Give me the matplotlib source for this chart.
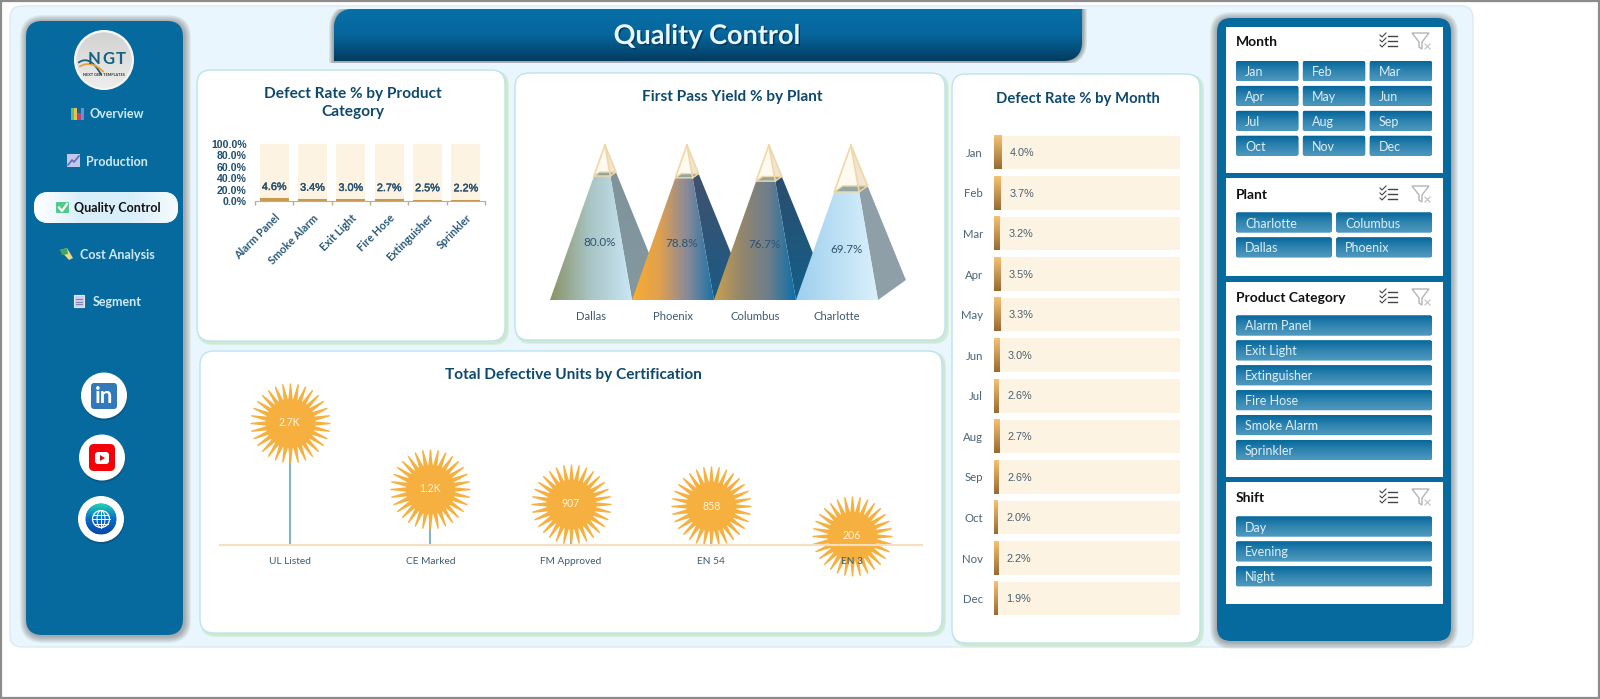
import numpy as np
import matplotlib
matplotlib.use("Agg")
import matplotlib.pyplot as plt
import matplotlib.patheffects as pe
from matplotlib.colors import LinearSegmentedColormap
from matplotlib.patches import FancyBboxPatch, Circle, Ellipse, Polygon, PathPatch, Rectangle
from matplotlib.path import Path

# chart data
product_cats = ["Alarm Panel", "Smoke Alarm", "Exit Light", "Fire Hose", "Extinguisher", "Sprinkler"]
product_defect = [4.6, 3.4, 3.0, 2.7, 2.5, 2.2]
product_ticks = [0, 20, 40, 60, 80, 100]

plants = ["Dallas", "Phoenix", "Columbus", "Charlotte"]
plant_yield = [80.0, 78.8, 76.7, 69.7]

certs = ["UL Listed", "CE Marked", "FM Approved", "EN 54", "EN 3"]
cert_units = [2700, 1240, 907, 858, 206]
cert_labels = ["2.7K", "1.2K", "907", "858", "206"]

months = ["Jan", "Feb", "Mar", "Apr", "May", "Jun", "Jul", "Aug", "Sep", "Oct", "Nov", "Dec"]
month_defect = [4.0, 3.7, 3.2, 3.5, 3.3, 3.0, 2.6, 2.7, 2.6, 2.0, 2.2, 1.9]

# navigation and slicers
nav_items = ["Overview", "Production", "Quality Control", "Cost Analysis", "Segment"]
slicer_plants = ["Charlotte", "Columbus", "Dallas", "Phoenix"]
slicer_cats = ["Alarm Panel", "Exit Light", "Extinguisher", "Fire Hose", "Smoke Alarm", "Sprinkler"]
slicer_shifts = ["Day", "Evening", "Night"]

W, H = 1600, 699
NAVY = "#0F4A6E"
BLUE = "#076A9E"
TAN = "#EFD7A6"
CREAM = "#FDF3E3"
plt.rcParams["font.family"] = ["Lato", "DejaVu Sans"]

fig = plt.figure(figsize=(W / 100, H / 100), dpi=100, facecolor="white")
bg = fig.add_axes([0, 0, 1, 1])
bg.set_xlim(0, W)
bg.set_ylim(H, 0)
bg.axis("off")


def axes_px(x0, y0, x1, y1):
    ax = fig.add_axes([x0 / W, 1 - y1 / H, (x1 - x0) / W, (y1 - y0) / H])
    ax.patch.set_alpha(0)
    return ax


def rbox(x0, y0, x1, y1, r, **kw):
    p = FancyBboxPatch((x0, y0), x1 - x0, y1 - y0, boxstyle=f"round,pad=0,rounding_size={r}", **kw)
    bg.add_patch(p)
    return p


def grad(ax, x0, y0, x1, y1, colors, clip=None, vertical=True, z=2):
    cmap = LinearSegmentedColormap.from_list("g", colors)
    g = np.linspace(0, 1, 64)
    g = g[:, None] if vertical else g[None, :]
    lims = ax.get_xlim(), ax.get_ylim()
    im = ax.imshow(g, extent=(x0, x1, y1, y0), cmap=cmap, aspect="auto", zorder=z, origin="upper", vmin=0, vmax=1)
    im.set_clip_box(fig.bbox)  # pyramids lean out past the axes
    if clip is not None:
        im.set_clip_path(clip)
    ax.set_xlim(lims[0])
    ax.set_ylim(lims[1])
    return im


def shadow(x0, y0, x1, y1, r, color, dx, dy, spread=5, alpha=0.12):
    for s in range(spread, 0, -1):
        rbox(x0 + dx - s, y0 + dy - s, x1 + dx + s, y1 + dy + s, r + s, fc=color, ec="none", alpha=alpha, zorder=1)


def card(x0, y0, x1, y1):
    shadow(x0, y0, x1, y1, 14, "#BFE3B8", 2, 2, spread=2, alpha=0.4)
    rbox(x0, y0, x1, y1, 14, fc="white", ec="#BDE3EF", lw=1.0, zorder=1.5)


# page frame
bg.add_patch(Rectangle((1, 1), W - 2, H - 2, fc="white", ec="#8C8C8C", lw=1.6, zorder=0))
rbox(10, 6, 1473, 647, 12, fc="#EAF6FD", ec="#DCEAF2", lw=1, zorder=0.5)

# sidebar
shadow(26, 21, 183, 635, 16, "#444444", 1, 1, spread=7, alpha=0.07)
rbox(26, 21, 183, 635, 16, fc=BLUE, ec="none", zorder=1.5)

# logo
bg.add_patch(Circle((104, 60), 30, fc="#F6F6F4", ec="none", zorder=3))
disc = Circle((104, 60), 27.5, fc="#E4E4E2", ec="none", zorder=3.1)
bg.add_patch(disc)
grad(bg, 76, 32, 132, 88, ["#D2D2D0", "#EDEDEB"], clip=disc, z=3.1)
for letter, lx in zip("NGT", [94, 108, 121]):
    bg.text(lx, 59, letter, fontsize=12, fontweight="bold", color="#17607F", ha="center", va="center", zorder=4)
arc_t = np.linspace(0, 1, 30)
bg.plot(79 + 22 * arc_t, 63 + 9 * (arc_t - 0.35) ** 2 * 3 - 4 * (1 - arc_t), color="#17607F", lw=1.3, zorder=3.8)
bg.plot(80 + 23 * arc_t, 65 + 6 * (arc_t - 0.4) ** 2 * 3 - 1.5 * (1 - arc_t), color="#E9A23B", lw=1.3, zorder=3.8)
bg.text(104, 74.5, "NEXT GEN TEMPLATES", fontsize=2.8, fontweight="bold", color="#333333", ha="center", va="center", zorder=4)

# nav pill + labels
pill = rbox(34, 192, 178, 223, 15, fc="#E4F3FB", ec="none", zorder=2)
grad(bg, 34, 192, 178, 223, ["#FFFFFF", "#D8EEF9", "#D8EEF9", "#F4FBFF"], clip=pill, vertical=False, z=2.2)
nav_y = [114.5, 161.5, 208.5, 255, 301.5]
nav_x = [117, 117, 117, 117, 117]
for name, x, y in zip(nav_items, nav_x, nav_y):
    active = name == "Quality Control"
    bg.text(x, y, name, fontsize=9, fontweight="bold", color="#111111" if active else "#CFEAF5",
            ha="center", va="center", zorder=4)

# nav icons
for c, (x0, x1, top) in zip(["#5BB98C", "#E8C24A", "#C8407A", "#6C8FD0"], [(71, 74, 108), (74, 77, 108), (77, 80.5, 113), (80.5, 84, 108)]):
    bg.add_patch(Rectangle((x0, top), x1 - x0, 120 - top, fc=c, ec="none", zorder=4))
bg.add_patch(Rectangle((67, 154), 13, 13, fc="#C4C6EC", ec="none", zorder=4))
bg.plot([68, 72, 74, 79], [165, 160, 162, 156], color="#5E6FC0", lw=1.2, zorder=5)
bg.add_patch(FancyBboxPatch((56, 202), 13, 11, boxstyle="round,pad=0,rounding_size=1", fc="#52C98A", ec="none", zorder=4))
bg.plot([59, 62, 67], [207.5, 211, 204], color="white", lw=1.6, zorder=5)
bg.add_patch(Polygon([(60, 250), (67, 248), (73, 258), (69, 260)], fc="#E9D98A", ec="none", zorder=4))
bg.add_patch(Polygon([(60, 250), (67, 248), (68, 254), (62, 255)], fc="#3DA566", ec="none", zorder=4.1))
bg.add_patch(Rectangle((74, 295), 10, 12, fc="#C9CCEC", ec="#E6E6F4", lw=0.8, zorder=4))
for ly in (299, 301.5, 304):
    bg.plot([76, 82], [ly, ly], color="#7C7FB0", lw=0.7, zorder=5)

# social buttons
for cx, cy in [(104, 395.5), (102, 457.5), (101, 519)]:
    bg.add_patch(Circle((cx + 0.5, cy + 2), 23, fc="#0A4A6E", ec="none", alpha=0.55, zorder=2))
    bg.add_patch(Circle((cx, cy), 23, fc="white", ec="none", zorder=3))
rbox(91, 383, 117, 409, 3, fc="#3179B8", ec="none", zorder=4)
bg.text(104, 396.5, "in", fontsize=16, fontweight="bold", color="white", ha="center", va="center", zorder=5)
rbox(89, 444, 115, 471, 5, fc="#F40009", ec="none", zorder=4)
rbox(95, 452, 109, 464, 3, fc="white", ec="none", zorder=5)
bg.add_patch(Polygon([(100, 455), (100, 461), (105, 458)], fc="#D5101A", ec="none", zorder=6))
globe = Circle((101, 519), 15.5, fc="#0A6AC8", ec="none", zorder=4)
bg.add_patch(globe)
grad(bg, 86, 504, 116, 534, ["#1DD0B4", "#0A6AC8", "#0648A8"], clip=globe, z=4.1)
bg.add_patch(Circle((101, 519), 8.5, fc="none", ec="white", lw=0.9, zorder=5))
bg.add_patch(Ellipse((101, 519), 8, 17, fc="none", ec="white", lw=0.7, zorder=5))
bg.plot([92.5, 109.5], [519, 519], color="white", lw=0.7, zorder=5)
bg.plot([94, 108], [514.5, 514.5], color="white", lw=0.7, zorder=5)
bg.plot([94, 108], [523.5, 523.5], color="white", lw=0.7, zorder=5)
bg.plot([101, 101], [510.5, 527.5], color="white", lw=0.7, zorder=5)

# header banner, rounded top-left and bottom-right only
hx0, hy0, hx1, hy1, hr = 334, 9, 1082, 61, 20
verts = [(hx0, hy1), (hx0, hy0 + hr), (hx0, hy0), (hx0 + hr, hy0), (hx1, hy0), (hx1, hy1 - hr), (hx1, hy1), (hx1 - hr, hy1), (hx0, hy1)]
codes = [Path.MOVETO, Path.LINETO, Path.CURVE3, Path.CURVE3, Path.LINETO, Path.LINETO, Path.CURVE3, Path.CURVE3, Path.CLOSEPOLY]
for s in range(5, 0, -1):
    sh = PathPatch(Path(verts, codes), fc="none", ec="#444444", lw=s * 1.4, alpha=0.11, zorder=1)
    bg.add_patch(sh)
    sh.set_clip_path(Rectangle((300, 9), 820, 54, transform=bg.transData))
head = PathPatch(Path(verts, codes), fc=BLUE, ec="none", zorder=2)
bg.add_patch(head)
grad(bg, hx0, hy0, hx1, hy1, ["#0870A8", "#06669C", "#023B5F"], clip=head, z=2.2)
bg.text(707, 36, "Quality Control", fontsize=19.5, fontweight="bold", color="#E8F7FF", ha="center", va="center", zorder=5,
        path_effects=[pe.withSimplePatchShadow(offset=(1, -1), shadow_rgbFace="#06304C", alpha=0.8)])

# chart cards
card(197, 70, 505, 341)
card(515, 73, 945, 340)
card(200, 351, 942, 633)
card(952, 74, 1200, 643)


def card_title(x, y, s, size=11.05):
    bg.text(x, y, s, fontsize=size, fontweight="bold", color=NAVY, ha="center", va="center", linespacing=1.3, zorder=5)


card_title(353, 103, "Defect Rate % by Product\nCategory")
card_title(732, 96.5, "First Pass Yield % by Plant")
card_title(573, 374.5, "Total Defective Units by Certification")
card_title(1078, 99.5, "Defect Rate % by Month", size=10.7)

# defect rate by product
ax1 = axes_px(255, 144, 485, 201)
xs = np.arange(len(product_cats))
ax1.bar(xs, [100] * len(xs), width=0.76, color=CREAM, zorder=1)
ax1.bar(xs, product_defect, width=0.76, color="#C79A4E", zorder=2)
ax1.set_xlim(-0.5, len(xs) - 0.5)
ax1.set_ylim(0, 100)
for x, v in zip(xs, product_defect):
    ax1.annotate(f"{v:.1f}%", (x, v), xytext=(0, 8.2), textcoords="offset points", ha="center", va="center",
                 fontsize=7.8, color="#27516F", family=["Liberation Sans"], zorder=3,
                 path_effects=[pe.withStroke(linewidth=0.3, foreground="#27516F")])
ax1.set_yticks(product_ticks, [f"{t:.1f}%" for t in product_ticks], fontsize=7.6, fontweight="bold",
               color="#1F4E6E", family=["Liberation Sans"])
ax1.tick_params(axis="y", length=0, pad=6)
ax1.set_xticks(np.arange(-0.5, len(xs)), minor=True)
ax1.tick_params(axis="x", which="minor", length=3, color="#B9AD98", width=1)
ax1.set_xticks(xs, product_cats, rotation=45, ha="right", rotation_mode="anchor", fontsize=7.9,
               fontweight="bold", color="#2B5A7A")
ax1.tick_params(axis="x", which="major", length=0, pad=8)
for s in ["top", "left", "right"]:
    ax1.spines[s].set_visible(False)
ax1.spines["bottom"].set_color("#B9AD98")

# first pass yield pyramids
ax2 = axes_px(550, 145, 878, 300)
ax2.set_xlim(-0.5, 3.5)
ax2.set_ylim(0, 100)
front_colors = [["#8A9468", "#A9C5C6", "#C9E6F5"], ["#F9AE2F", "#E0A050", "#8C8A98", "#1C72A8"],
                ["#C9A050", "#93866C", "#6E7E8C", "#0E6FA8"], ["#9ECFEE", "#BCE0F4", "#D9F0FB"]]
side_colors = [["#7E9299", "#84989F"], ["#4A5068", "#1A5A85"], ["#2F4A68", "#155E88"], ["#8F9FA8", "#8F9FA8"]]
depth_x, depth_y = 0.34, 12.9


def lerp(p, q, t):
    return (p[0] + (q[0] - p[0]) * t, p[1] + (q[1] - p[1]) * t)


for i, v in enumerate(plant_yield):
    z = 3 + i
    fl, fr = (i - 0.5, 0), (i + 0.5, 0)
    bl, br = (i - 0.5 + depth_x, depth_y), (i + 0.5 + depth_x, depth_y)
    apex = (i + depth_x / 2, 100)
    t = v / 100
    cfl, cfr, cbl, cbr = [lerp(p, apex, t) for p in (fl, fr, bl, br)]
    side = Polygon([fr, br, cbr, cfr], transform=ax2.transData, fc="none", ec="none", zorder=z)
    ax2.add_patch(side)
    grad(ax2, i, 100, i + 1, 0, side_colors[i], clip=side, z=z)
    face = Polygon([fl, fr, cfr, cfl], transform=ax2.transData, fc="none", ec="none", zorder=z + 0.1)
    ax2.add_patch(face)
    grad(ax2, i - 0.5, 100, i + 0.5, 0, front_colors[i], clip=face, vertical=False, z=z + 0.1)
    # empty top of the pyramid
    ax2.add_patch(Polygon([cfl, cfr, apex], fc="#FEFAF0", ec="none", clip_on=False, zorder=z + 0.2))
    ax2.add_patch(Polygon([cfr, cbr, apex], fc="#F3E3D3", ec="none", clip_on=False, zorder=z + 0.2))
    ax2.add_patch(Polygon([cfl, cfr, cbr, cbl], fc="#93A6A2", ec=TAN, lw=1.0, clip_on=False, zorder=z + 0.3))
    for p in (cfl, cfr, cbr):
        ax2.plot([p[0], apex[0]], [p[1], apex[1]], color=TAN, lw=1.2, clip_on=False, zorder=z + 0.4)
    ax2.text(i + 0.11, v * 0.465, f"{v:.1f}%", fontsize=8.4, color="#2E5470", ha="center", va="center", zorder=z + 0.5)
ax2.set_xticks(range(len(plants)), plants, fontsize=8.1, color="#3D5A70")
ax2.tick_params(axis="x", length=0, pad=8)
ax2.set_yticks([])
for s in ax2.spines.values():
    s.set_visible(False)

# defective units lollipops
ax3 = axes_px(219.5, 380, 922, 545)
ax3.set_xlim(-0.5, len(certs) - 0.5)
ax3.set_ylim(0, 3650)
n_spikes = 32
step = 2 * np.pi / n_spikes
sun_pts = []
for a in np.arange(n_spikes) * step + np.pi / 2:
    for da, r in [(-0.44 * step, 0.62), (-0.08 * step, 1.0), (0.08 * step, 1.0), (0.44 * step, 0.62)]:
        sun_pts.append((r * np.cos(a + da), r * np.sin(a + da)))
sun_pts.append(sun_pts[0])
sun = Path(sun_pts, closed=True)
x3 = np.arange(len(certs))
ax3.vlines(x3, 0, cert_units, color="#7FB2CF", lw=1.4, zorder=1)
ax3.scatter(x3, cert_units, marker=sun, s=3318, color="#F6B040", linewidths=0, clip_on=False, zorder=1.5)
for x, v, lab in zip(x3, cert_units, cert_labels):
    ax3.text(x, v, lab, fontsize=7.6, color="#FFF3DC", ha="center", va="center", zorder=3)
ax3.set_xticks(x3, certs, fontsize=7.3, color="#3D5A70")
ax3.tick_params(axis="x", length=0, pad=9)
ax3.set_yticks([])
for s in ["top", "left", "right"]:
    ax3.spines[s].set_visible(False)
ax3.spines["bottom"].set_color("#F6DFBC")
ax3.spines["bottom"].set_linewidth(1.5)

# defect rate by month
ax4 = axes_px(994, 132, 1180, 619)
y4 = np.arange(len(months))
ax4.barh(y4, [100] * len(y4), height=0.825, color=CREAM, zorder=1)
bars = ax4.barh(y4, month_defect, height=0.825, color="#C79A4E", zorder=2)
ax4.set_xlim(0, 100)
ax4.set_ylim(len(months) - 0.5, -0.5)
for b, v in zip(bars, month_defect):
    x0, x1 = b.get_x(), b.get_x() + b.get_width()
    y0, y1 = b.get_y(), b.get_y() + b.get_height()
    grad(ax4, x0, y0, x1, y1, ["#F6C173", "#966B32"], z=2.5)
    ax4.annotate(f"{v:.1f}%", (v, b.get_y() + b.get_height() / 2), xytext=(6, -0.5), textcoords="offset points",
                 ha="left", va="center", fontsize=7.8, color="#4A6070", family=["Liberation Sans"], zorder=3)
ax4.set_yticks(y4, months, fontsize=8.2, color="#4A6478")
ax4.tick_params(axis="y", length=0, pad=8)
ax4.set_xticks([])
for s in ax4.spines.values():
    s.set_visible(False)

# slicer column
shadow(1217, 18, 1451, 641, 14, "#444444", 0, 1, spread=7, alpha=0.07)
rbox(1217, 18, 1451, 641, 14, fc=BLUE, ec="none", zorder=1.5)


def slicer_icons(y):
    for dy in (-5, 0, 5):
        bg.plot([1380, 1382, 1386], [y + dy - 1, y + dy + 1, y + dy - 3], color="#444444", lw=0.8, zorder=5)
        bg.plot([1388, 1397], [y + dy, y + dy], color="#444444", lw=1, zorder=5)
    bg.add_patch(Polygon([(1412, y - 8), (1429, y - 8), (1422, y + 1), (1422, y + 8), (1419, y + 6), (1419, y + 1)],
                         fc="white", ec="#B5B5B5", lw=1, zorder=5))
    bg.plot([1425, 1430], [y + 3, y + 8], color="#C4C4C4", lw=0.9, zorder=6)
    bg.plot([1430, 1425], [y + 3, y + 8], color="#C4C4C4", lw=0.9, zorder=6)


def slicer(y0, y1, title, title_y, items, ncols, first_y):
    bg.add_patch(Rectangle((1226, y0), 217, y1 - y0, fc="white", ec="none", zorder=2))
    bg.text(1236, title_y + 1, title, fontsize=10, fontweight="bold", color="#111111", ha="left", va="center", zorder=5)
    slicer_icons(title_y)
    gap = 4.5
    bw = (196 - gap * (ncols - 1)) / ncols
    for k, name in enumerate(items):
        r, c = divmod(k, ncols)
        x0 = 1236 + c * (bw + gap)
        y = first_y + r * 24.9
        btn = rbox(x0, y, x0 + bw, y + 20, 2, fc=BLUE, ec="none", zorder=3)
        grad(bg, x0, y, x0 + bw, y + 20, ["#06669C", "#2F84B0", "#4F98BE"], clip=btn, z=3.1)
        bg.text(x0 + 9, y + 11, name, fontsize=9, color="#DDEFF8", ha="left", va="center", zorder=5)


slicer(27, 173, "Month", 41, months, 3, 61)
slicer(178, 276, "Plant", 194, slicer_plants, 2, 212.5)
slicer(282, 477, "Product Category", 297, slicer_cats, 1, 315.5)
slicer(482, 604, "Shift", 497, slicer_shifts, 1, 516.5)

fig.savefig("out.png", dpi=100, facecolor="white")
